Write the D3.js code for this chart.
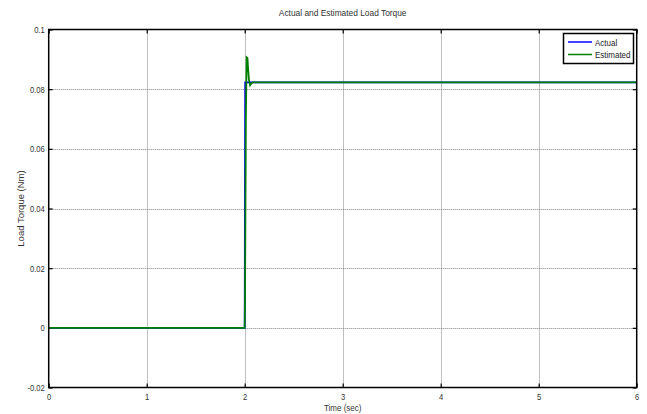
<!DOCTYPE html>
<html>
<head>
<meta charset="utf-8">
<script src="https://cdn.jsdelivr.net/npm/d3@7"></script>
<style>
  html, body { margin: 0; padding: 0; background: #fff; }
  svg { display: block; font-family: "Liberation Sans", Arial, sans-serif; }
</style>
</head>
<body>
<svg id="chart" width="647" height="414"></svg>
<script>
// Load torque step applied at t = 2 s
const actualTime = [0, 2.0, 2.005, 6];
const actualTorque = [0, 0, 0.0823, 0.0823];

const estimatedTime = [0, 2.0, 2.004, 2.012, 2.02, 2.028, 2.036, 2.044, 2.055, 2.065, 2.08, 6];
const estimatedTorque = [0, 0, 0.0134, 0.0706, 0.0907, 0.0905, 0.0862, 0.083, 0.0813, 0.0818, 0.0823, 0.0823];

const xTicks = [0, 1, 2, 3, 4, 5, 6];
const yTicks = [-0.02, 0, 0.02, 0.04, 0.06, 0.08, 0.1];
const yTickLabels = ["-0.02", "0", "0.02", "0.04", "0.06", "0.08", "0.1"];

const seriesNames = ["Actual", "Estimated"];
const seriesColors = ["#0000ff", "#007f00"];

const svg = d3.select("#chart");
const plotLeft = 48.7, plotRight = 636.7, plotTop = 29.5, plotBottom = 387.5;

const x = d3.scaleLinear().domain([0, 6]).range([plotLeft, plotRight]);
const y = d3.scaleLinear().domain([-0.02, 0.1]).range([plotBottom, plotTop]);

// narrow the glyphs of a text selection horizontally
function condense(sel, factor) {
  sel.each(function () {
    const w = this.getComputedTextLength();
    if (w > 0) d3.select(this).attr("textLength", w * factor).attr("lengthAdjust", "spacingAndGlyphs");
  });
}

// grid
const grid = svg.append("g").attr("stroke", "#808080").attr("stroke-width", 1)
  .attr("stroke-dasharray", "1,1");
grid.selectAll(".gx").data(xTicks.slice(1, -1)).join("line")
  .attr("x1", d => Math.round(x(d)) + 0.5).attr("x2", d => Math.round(x(d)) + 0.5)
  .attr("y1", plotTop).attr("y2", plotBottom);
grid.selectAll(".gy").data(yTicks.slice(1, -1)).join("line")
  .attr("y1", d => Math.round(y(d)) + 0.5).attr("y2", d => Math.round(y(d)) + 0.5)
  .attr("x1", plotLeft).attr("x2", plotRight);

// axes with inward ticks
const xAxisB = d3.axisBottom(x).tickValues(xTicks).tickSize(-4).tickPadding(6).tickFormat(d3.format("d"));
const xAxisT = d3.axisTop(x).tickValues(xTicks).tickSize(-4).tickFormat("");
const yAxisL = d3.axisLeft(y).tickValues(yTicks).tickSize(-4).tickPadding(4)
  .tickFormat((d, i) => yTickLabels[i]);
const yAxisR = d3.axisRight(y).tickValues(yTicks).tickSize(-4).tickFormat("");

function styleAxis(g) {
  g.select(".domain").remove();
  g.selectAll(".tick line").attr("stroke", "#000").attr("stroke-width", 1.2);
  g.selectAll(".tick text").attr("fill", "#333").attr("font-size", 9.5).call(condense, 0.8);
}
svg.append("g").attr("transform", `translate(0,${plotBottom})`).call(xAxisB).call(styleAxis);
svg.append("g").attr("transform", `translate(0,${plotTop})`).call(xAxisT).call(styleAxis);
svg.append("g").attr("transform", `translate(${plotLeft},0)`).call(yAxisL).call(styleAxis);
svg.append("g").attr("transform", `translate(${plotRight},0)`).call(yAxisR).call(styleAxis);

// data lines
const line = d3.line().x(d => x(d[0])).y(d => y(d[1]));
const actual = actualTime.map((t, i) => [t, actualTorque[i]]);
const estimated = estimatedTime.map((t, i) => [t, estimatedTorque[i]]);
svg.append("path").datum(actual).attr("d", line).attr("fill", "none")
  .attr("stroke", seriesColors[0]).attr("stroke-width", 1.8);
svg.append("path").datum(estimated).attr("d", line).attr("fill", "none")
  .attr("stroke", seriesColors[1]).attr("stroke-width", 1.8);

// box
svg.append("rect").attr("x", plotLeft).attr("y", plotTop)
  .attr("width", plotRight - plotLeft).attr("height", plotBottom - plotTop)
  .attr("fill", "none").attr("stroke", "#000").attr("stroke-width", 1.5);

// title and labels
svg.append("text").attr("x", (plotLeft + plotRight) / 2).attr("y", 16).attr("text-anchor", "middle")
  .attr("font-size", 9.5).attr("fill", "#333").text("Actual and Estimated Load Torque")
  .call(condense, 0.88);
svg.append("text").attr("x", (plotLeft + plotRight) / 2).attr("y", 411).attr("text-anchor", "middle")
  .attr("font-size", 9.5).attr("fill", "#333").text("Time (sec)")
  .call(condense, 0.84);
svg.append("text").attr("transform", `translate(24,${(plotTop + plotBottom) / 2}) rotate(-90)`)
  .attr("text-anchor", "middle").attr("font-size", 9.5).attr("fill", "#333").text("Load Torque (Nm)");

// legend
const lg = svg.append("g");
lg.append("rect").attr("x", 563.5).attr("y", 33.5).attr("width", 70).attr("height", 30)
  .attr("fill", "#fff").attr("stroke", "#000").attr("stroke-width", 1.5);
seriesNames.forEach((name, i) => {
  const yy = 42 + i * 12.5;
  lg.append("line").attr("x1", 568).attr("x2", 592).attr("y1", yy).attr("y2", yy)
    .attr("stroke", seriesColors[i]).attr("stroke-width", 1.5);
  lg.append("text").attr("x", 595).attr("y", yy + 3.5).attr("font-size", 9.5).attr("fill", "#222")
    .text(name).call(condense, 0.84);
});
</script>
</body>
</html>
